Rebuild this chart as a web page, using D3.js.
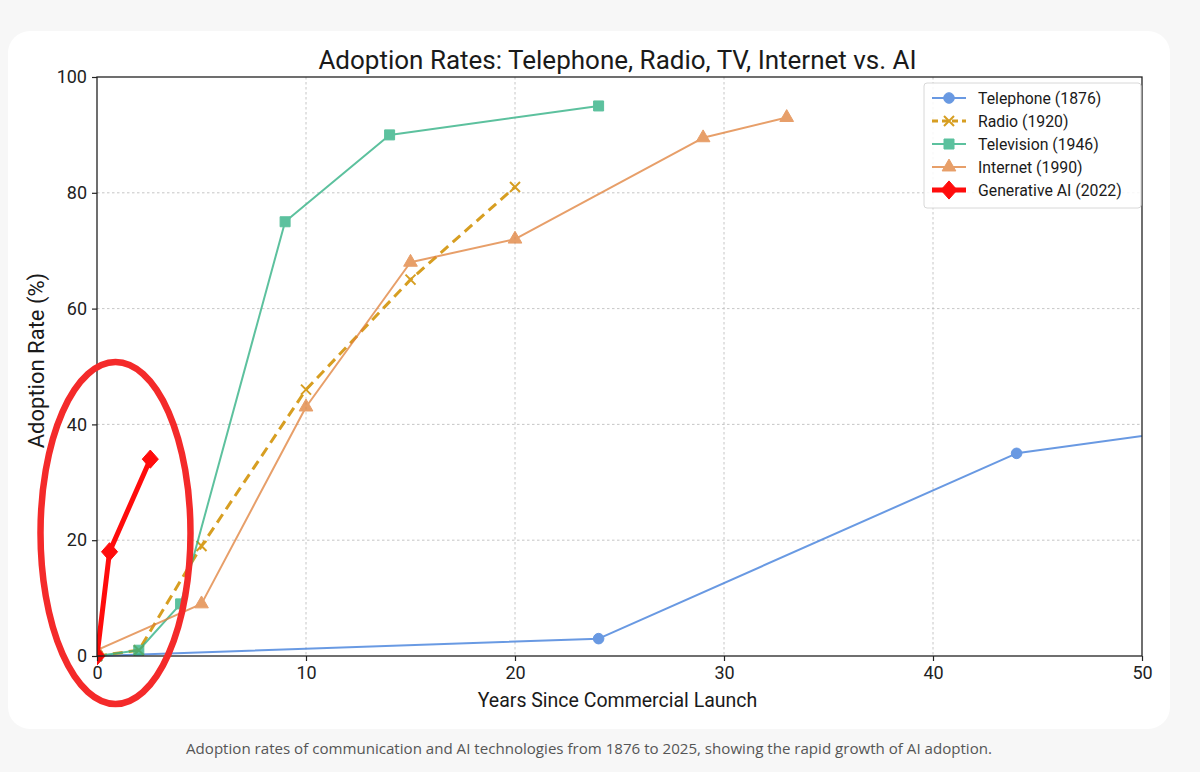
<!DOCTYPE html>
<html><head><meta charset="utf-8">
<script src="https://cdn.jsdelivr.net/npm/d3@7"></script>
<style>
html,body{margin:0;padding:0;background:#f7f7f7;}
svg{display:block;}
</style></head>
<body>
<svg id="chart" width="1200" height="772"></svg>
<script>
// ---- data ----
const seriesNames = ["Telephone (1876)", "Radio (1920)", "Television (1946)", "Internet (1990)", "Generative AI (2022)"];
const telephoneYears = [0, 24, 44, 54];
const telephoneRates = [0, 3, 35, 40];
const radioYears = [0, 2, 5, 10, 15, 20];
const radioRates = [0, 1, 19, 46, 65, 81];
const tvYears = [0, 2, 4, 9, 14, 24];
const tvRates = [0, 1, 9, 75, 90, 95];
const internetYears = [0, 5, 10, 15, 20, 29, 33];
const internetRates = [1, 9, 43, 68, 72, 89.5, 93];
const aiYears = [0, 0.6, 2.55];
const aiRates = [0, 18, 34];
const xTicks = [0, 10, 20, 30, 40, 50];
const yTicks = [0, 20, 40, 60, 80, 100];
const titleText = "Adoption Rates: Telephone, Radio, TV, Internet vs. AI";
const xLabel = "Years Since Commercial Launch";
const yLabel = "Adoption Rate (%)";
const caption = "Adoption rates of communication and AI technologies from 1876 to 2025, showing the rapid growth of AI adoption.";

// ---- styles ----
const styles = [
  {color:"#3f7ddb", width:2, dash:null, marker:"circle", opacity:0.78, size:10.5},
  {color:"#d4960f", width:3, dash:"10,6", marker:"x", opacity:0.92, size:10},
  {color:"#2fb083", width:2, dash:null, marker:"square", opacity:0.78, size:10},
  {color:"#e07f38", width:2, dash:null, marker:"triangle", opacity:0.75, size:9.5},
  {color:"#ff0000", width:5, dash:null, marker:"diamond", opacity:0.95, size:13}
];
const series = [
  d3.zip(telephoneYears, telephoneRates),
  d3.zip(radioYears, radioRates),
  d3.zip(tvYears, tvRates),
  d3.zip(internetYears, internetRates),
  d3.zip(aiYears, aiRates)
];

const FONT = "Roboto, 'Open Sans', sans-serif";
const svg = d3.select("#chart");
// card
svg.append("rect").attr("x",8).attr("y",31).attr("width",1162).attr("height",698)
  .attr("rx",22).attr("fill","#ffffff");

const L=97, R=1142, T=77, B=656;
const x = d3.scaleLinear().domain([0,50]).range([L,R]);
const y = d3.scaleLinear().domain([0,100]).range([B,T]);

svg.append("defs").append("clipPath").attr("id","clip")
  .append("rect").attr("x",L).attr("y",T-10).attr("width",R-L).attr("height",B-T+20);

// grid
const grid = svg.append("g");
grid.selectAll(".gx").data(xTicks.filter(d=>d>0&&d<50)).join("line")
  .attr("x1",d=>x(d)).attr("x2",d=>x(d)).attr("y1",T).attr("y2",B)
  .attr("stroke","#b8b8b8").attr("stroke-width",0.8).attr("stroke-dasharray","2.5,2.5");
grid.selectAll(".gy").data(yTicks.filter(d=>d>0&&d<100)).join("line")
  .attr("x1",L).attr("x2",R).attr("y1",d=>y(d)).attr("y2",d=>y(d))
  .attr("stroke","#b8b8b8").attr("stroke-width",0.8).attr("stroke-dasharray","2.5,2.5");

// lines
const line = d3.line().x(d=>x(d[0])).y(d=>y(d[1]));
const plot = svg.append("g").attr("clip-path","url(#clip)");
function markerPath(type, s){
  switch(type){
    case "circle": return d3.symbol(d3.symbolCircle, s*s*0.8)();
    case "square": return d3.symbol(d3.symbolSquare, s*s)();
    case "triangle": return d3.symbol(d3.symbolTriangle, s*s*0.9)();
    case "diamond": { const a=s*0.7, b=s*0.62; return `M0,${-a}L${b},0L0,${a}L${-b},0Z`; }
    case "x": { const a=s*0.5; return `M${-a},${-a}L${a},${a}M${-a},${a}L${a},${-a}`; }
  }
}
series.forEach((data,i)=>{
  const st = styles[i];
  const g = plot.append("g").attr("opacity", st.opacity);
  g.append("path").datum(data).attr("d",line).attr("fill","none")
    .attr("stroke",st.color).attr("stroke-width",st.width)
    .attr("stroke-dasharray",st.dash).attr("stroke-linejoin","round");
  g.selectAll("path.m").data(data).join("path").attr("class","m")
    .attr("transform",d=>`translate(${x(d[0])},${y(d[1])})`)
    .attr("d",markerPath(st.marker,st.size))
    .attr("fill", st.marker==="x" ? "none" : st.color)
    .attr("stroke", st.color).attr("stroke-width", st.marker==="x" ? 2 : 1);
});

// axes
const xAxis = d3.axisBottom(x).tickValues(xTicks).tickSize(5).tickPadding(5);
const yAxis = d3.axisLeft(y).tickValues(yTicks).tickSize(5).tickPadding(5);
const gx = svg.append("g").attr("transform",`translate(0,${B})`).call(xAxis);
const gy = svg.append("g").attr("transform",`translate(${L},0)`).call(yAxis);
[gx,gy].forEach(g=>{
  g.select(".domain").remove();
  g.selectAll(".tick line").attr("stroke","#222").attr("stroke-width",1.2);
  g.selectAll(".tick text").attr("fill","#222").style("font-family",FONT).style("font-size","18px");
});
// spines
svg.append("rect").attr("x",L).attr("y",T).attr("width",R-L).attr("height",B-T)
  .attr("fill","none").attr("stroke","#222").attr("stroke-width",1.3);

// labels
svg.append("text").attr("x",(L+R)/2-2).attr("y",69).attr("text-anchor","middle")
  .style("font-family",FONT).style("font-size","26px").attr("fill","#1a1a1a").text(titleText);
svg.append("text").attr("x",(L+R)/2-2).attr("y",707).attr("text-anchor","middle")
  .style("font-family",FONT).style("font-size","19.5px").attr("fill","#1a1a1a").text(xLabel);
svg.append("text").attr("transform",`translate(44,${(T+B)/2-6}) rotate(-90)`).attr("text-anchor","middle")
  .style("font-family",FONT).style("font-size","22px").attr("fill","#1a1a1a").text(yLabel);

// legend
const leg = svg.append("g");
leg.append("rect").attr("x",924).attr("y",83).attr("width",217).attr("height",125)
  .attr("rx",3).attr("fill","#fff").attr("fill-opacity",0.85).attr("stroke","#d8d8d8");
seriesNames.forEach((name,i)=>{
  const st = styles[i];
  const yy = 98 + i*23;
  const g = leg.append("g").attr("opacity", st.opacity);
  g.append("line").attr("x1",932).attr("x2",966).attr("y1",yy).attr("y2",yy)
    .attr("stroke",st.color).attr("stroke-width",st.width).attr("stroke-dasharray",st.dash?"6,4":null);
  g.append("path").attr("transform",`translate(949,${yy})`).attr("d",markerPath(st.marker, st.size))
    .attr("fill", st.marker==="x"?"none":st.color).attr("stroke",st.color).attr("stroke-width", st.marker==="x"?2:1);
  leg.append("text").attr("x",978).attr("y",yy+5.5).style("font-family",FONT).style("font-size","15.8px")
    .attr("fill","#1a1a1a").text(name);
});

// annotation ellipse
svg.append("ellipse").attr("cx",115.5).attr("cy",533).attr("rx",75).attr("ry",171)
  .attr("fill","none").attr("stroke","#f42a2a").attr("stroke-width",6.5);

// caption
svg.append("text").attr("x",589).attr("y",754).attr("text-anchor","middle")
  .style("font-family","'Liberation Sans Narrow', 'Open Sans', sans-serif").style("font-size","15.1px")
  .attr("fill","#555").text(caption);
</script>
</body></html>
